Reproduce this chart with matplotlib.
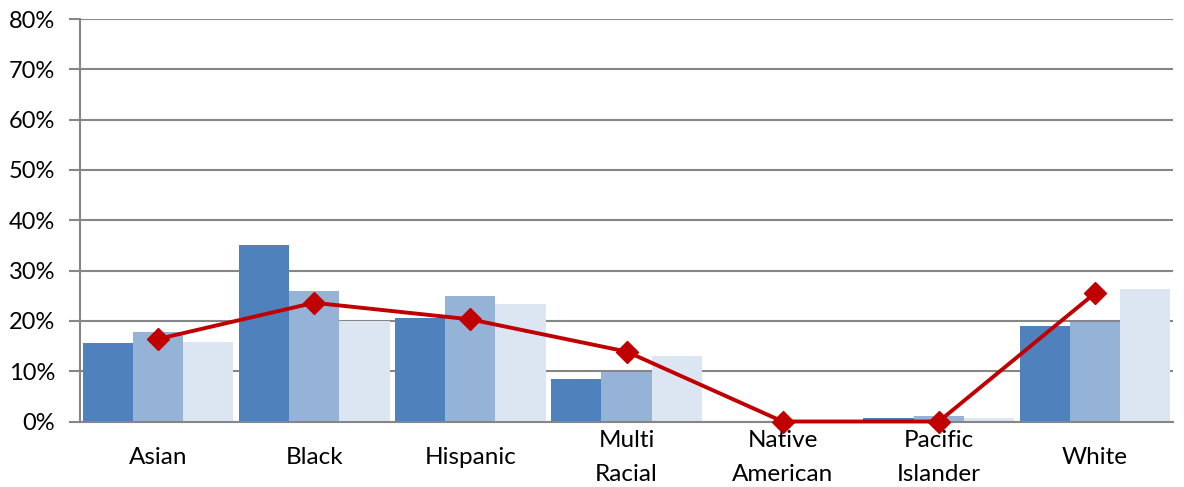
import numpy as np
import matplotlib.pyplot as plt
from matplotlib.ticker import PercentFormatter

plt.rcParams["font.family"] = ["Lato", "DejaVu Sans"]

categories = ["Asian", "Black", "Hispanic", "Multi\nRacial", "Native\nAmerican",
              "Pacific\nIslander", "White"]
series_a = [15.6, 35.1, 20.5, 8.4, 0.0, 0.6, 19.0]
series_b = [17.7, 26.0, 24.9, 9.9, 0.0, 1.0, 19.7]
series_c = [15.9, 20.0, 23.4, 13.0, 0.0, 0.6, 26.3]
line_vals = [16.4, 23.6, 20.3, 13.9, 0.0, 0.0, 25.5]

BAR_COLORS = ["#4F81BD", "#95B3D7", "#DCE6F2"]
GRID = "#868686"

fig = plt.figure(figsize=(11.84, 4.87), dpi=100)
ax = fig.add_axes([80 / 1184, (487 - 421.5) / 487, 1093 / 1184, 402.5 / 487])

x = np.arange(len(categories))
w = 0.322
for i, (vals, c) in enumerate(zip([series_a, series_b, series_c], BAR_COLORS)):
    ax.bar(x + (i - 1) * w, vals, width=w, color=c, zorder=2, linewidth=0)

ax.plot(x, line_vals, color="#C00000", lw=2.8, marker="D", ms=11,
        zorder=3, clip_on=False)

ax.set_xlim(-0.5, len(categories) - 0.5)
ax.set_ylim(0, 80)
ax.set_yticks(np.arange(0, 81, 10))
ax.yaxis.set_major_formatter(PercentFormatter(decimals=0))
ax.grid(axis="y", color=GRID, lw=1.5, zorder=0)
ax.set_axisbelow(True)

for s in ["top", "right"]:
    ax.spines[s].set_visible(False)
ax.spines["left"].set_color(GRID)
ax.spines["left"].set_linewidth(1.5)
ax.spines["bottom"].set_color(GRID)
ax.spines["bottom"].set_linewidth(1.5)

ax.tick_params(axis="y", length=8, width=1.5, color=GRID, labelsize=17, pad=10)
ax.tick_params(axis="x", length=0)
ax.set_xticks(x)
ax.set_xticklabels([])
for xi, lab in zip(x, categories):
    ax.text(xi, -7.1, lab, ha="center", va="center", fontsize=17.5,
            linespacing=1.75, transform=ax.transData)

fig.savefig("out.png", dpi=100)
